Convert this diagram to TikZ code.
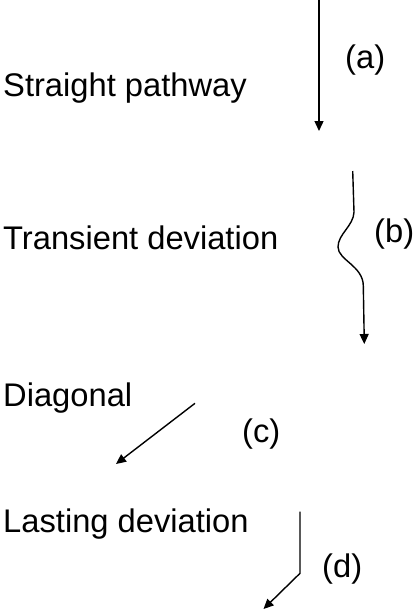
\documentclass[tikz,border=0pt]{standalone}
\usepackage{fontspec}
\setmainfont{Liberation Sans}
\usetikzlibrary{arrows.meta}
\usetikzlibrary{positioning}

\begin{document}
\begin{tikzpicture}[x=1pt,y=-1pt,
		every node/.style={inner sep=0pt,anchor=base west,font=\fontsize{32.7}{39}\selectfont},
		path/.style={line width=1.4pt,-{Triangle[length=10pt,width=9pt]}}]
		\useasboundingbox (0,0) rectangle (415,610);

		% labels
		\node (straight) at (3,96.7) {Straight pathway};
		\node (transient) at (3,249.3) {Transient deviation};
		\node (diagonal) at (3,406.7) {Diagonal};
		\node (lasting) at (3,532.3) {Lasting deviation};

		\node (la) at (345,69) {(a)};
		\node (lb) at (374,242) {(b)};
		\node (lc) at (242,442.4) {(c)};
		\node (ld) at (322,577) {(d)};

		% ends of the pathways
		\coordinate (a0) at (319,0);
		\coordinate (a1) at (319,131);
		\coordinate (b0) at (352.7,171);
		\coordinate (b1) at (354,212);
		\coordinate (b2) at (338,247);
		\coordinate (b3) at (363.3,286);
		\coordinate (b4) at (364.3,344);
		\coordinate (c0) at (195,403.3);
		\coordinate (c1) at (116,464);
		\coordinate (d0) at (300,511.7);
		\coordinate (d1) at (300,573.3);
		\coordinate (d2) at (263.5,609);

		\draw [path] (a0) -- (a1);
		\draw [path] (b0) -- (b1) .. controls (353.5,226) and (338,234) .. (b2)
			.. controls (338,260) and (363.3,266) .. (b3) -- (b4);
		\draw [path] (c0) -- (c1);
		\draw [path] (d0) -- (d1) -- (d2);
\end{tikzpicture}
\end{document}
